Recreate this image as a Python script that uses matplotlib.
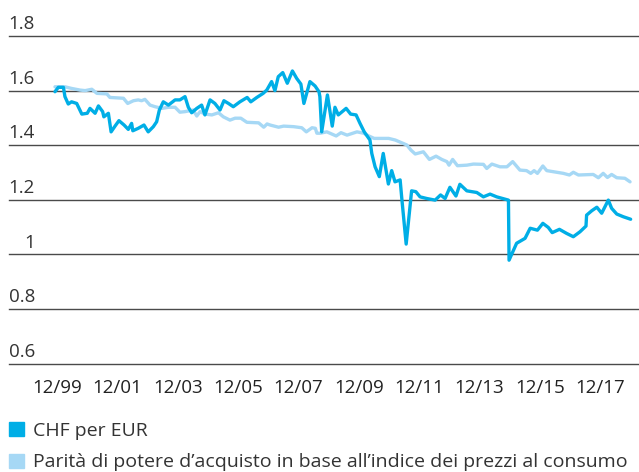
import matplotlib
matplotlib.use("Agg")
import matplotlib.pyplot as plt
import matplotlib.transforms as mtrans
from matplotlib.patches import Rectangle

plt.rcParams['font.family'] = ['Open Sans', 'DejaVu Sans']

# CHF per EUR (decimal year, value)
chf_t = [1999.85, 1999.96, 2000.13, 2000.18, 2000.29, 2000.40, 2000.57, 2000.74, 2000.92, 2001.01,
         2001.18, 2001.29, 2001.43, 2001.47, 2001.62, 2001.71, 2001.84, 2001.97, 2002.14, 2002.28,
         2002.39, 2002.43, 2002.61, 2002.80, 2002.94, 2003.11, 2003.22, 2003.31, 2003.44, 2003.61,
         2003.83, 2003.99, 2004.16, 2004.27, 2004.38, 2004.55, 2004.71, 2004.82, 2004.99, 2005.15,
         2005.32, 2005.45, 2005.60, 2005.76, 2005.98, 2006.22, 2006.34, 2006.54, 2006.75, 2006.87,
         2007.03, 2007.14, 2007.25, 2007.40, 2007.55, 2007.72, 2007.86, 2008.00, 2008.10, 2008.30,
         2008.47, 2008.60, 2008.63, 2008.69, 2008.88, 2009.04, 2009.13, 2009.24, 2009.50, 2009.65,
         2009.83, 2009.96, 2010.10, 2010.29, 2010.35, 2010.46, 2010.60, 2010.73, 2010.90, 2011.01,
         2011.12, 2011.29, 2011.34, 2011.49, 2011.67, 2011.81, 2011.95, 2012.17, 2012.45, 2012.63,
         2012.78, 2012.94, 2013.14, 2013.27, 2013.50, 2013.83, 2014.05, 2014.27, 2014.49, 2014.88,
         2014.90, 2015.15, 2015.43, 2015.60, 2015.84, 2016.02, 2016.20, 2016.33, 2016.57, 2016.81,
         2017.03, 2017.25, 2017.45, 2017.47, 2017.64, 2017.81, 2017.97, 2018.19, 2018.30, 2018.47,
         2018.69, 2018.93]
chf_v = [1.596, 1.612, 1.612, 1.578, 1.551, 1.559, 1.553, 1.514, 1.517, 1.535,
         1.517, 1.544, 1.523, 1.504, 1.517, 1.449, 1.470, 1.490, 1.474, 1.458,
         1.480, 1.453, 1.462, 1.474, 1.449, 1.468, 1.486, 1.529, 1.559, 1.547,
         1.566, 1.566, 1.578, 1.539, 1.519, 1.535, 1.547, 1.511, 1.566, 1.553,
         1.529, 1.563, 1.553, 1.541, 1.559, 1.575, 1.559, 1.575, 1.590, 1.602,
         1.633, 1.600, 1.651, 1.666, 1.627, 1.672, 1.645, 1.624, 1.553, 1.633,
         1.617, 1.596, 1.578, 1.449, 1.584, 1.470, 1.539, 1.511, 1.535, 1.514,
         1.511, 1.480, 1.449, 1.419, 1.370, 1.321, 1.285, 1.370, 1.258, 1.307,
         1.266, 1.273, 1.211, 1.038, 1.233, 1.230, 1.211, 1.205, 1.199, 1.218,
         1.205, 1.246, 1.214, 1.257, 1.233, 1.227, 1.211, 1.221, 1.211, 1.199,
         0.979, 1.041, 1.059, 1.096, 1.089, 1.114, 1.099, 1.080, 1.092, 1.077,
         1.065, 1.083, 1.104, 1.144, 1.160, 1.173, 1.151, 1.199, 1.169, 1.148,
         1.138, 1.129]

# Purchasing power parity based on CPI (decimal year, value)
ppp_t = [1999.85, 2000.18, 2000.40, 2000.68, 2000.85, 2001.07, 2001.24, 2001.57, 2001.67, 2002.12,
         2002.26, 2002.45, 2002.61, 2002.72, 2002.83, 2003.00, 2003.17, 2003.39, 2003.61, 2003.83,
         2003.99, 2004.16, 2004.43, 2004.55, 2004.66, 2004.82, 2005.05, 2005.27, 2005.43, 2005.65,
         2005.82, 2006.01, 2006.21, 2006.60, 2006.77, 2006.88, 2006.98, 2007.26, 2007.43, 2007.76,
         2008.03, 2008.18, 2008.37, 2008.48, 2008.53, 2008.64, 2008.86, 2009.17, 2009.33, 2009.53,
         2009.86, 2010.08, 2010.25, 2010.43, 2010.91, 2011.13, 2011.51, 2011.65, 2011.79, 2012.06,
         2012.26, 2012.48, 2012.67, 2012.84, 2012.91, 2013.03, 2013.19, 2013.50, 2013.72, 2014.05,
         2014.16, 2014.33, 2014.60, 2014.83, 2015.02, 2015.26, 2015.48, 2015.62, 2015.73, 2015.84,
         2016.02, 2016.15, 2016.37, 2016.70, 2016.90, 2017.03, 2017.20, 2017.69, 2017.86, 2018.02,
         2018.16, 2018.30, 2018.47, 2018.74, 2018.91]
ppp_v = [1.614, 1.614, 1.608, 1.602, 1.600, 1.605, 1.590, 1.588, 1.575, 1.572,
         1.553, 1.563, 1.566, 1.563, 1.568, 1.547, 1.541, 1.535, 1.539, 1.539,
         1.521, 1.523, 1.529, 1.507, 1.523, 1.514, 1.511, 1.519, 1.504, 1.492,
         1.499, 1.499, 1.484, 1.482, 1.466, 1.478, 1.474, 1.466, 1.470, 1.468,
         1.464, 1.449, 1.464, 1.462, 1.444, 1.444, 1.449, 1.434, 1.446, 1.437,
         1.449, 1.444, 1.434, 1.425, 1.425, 1.419, 1.401, 1.382, 1.368, 1.376,
         1.348, 1.360, 1.348, 1.340, 1.327, 1.348, 1.325, 1.327, 1.331, 1.330,
         1.315, 1.331, 1.321, 1.321, 1.340, 1.309, 1.307, 1.297, 1.307, 1.297,
         1.324, 1.307, 1.303, 1.297, 1.291, 1.301, 1.291, 1.293, 1.281, 1.297,
         1.282, 1.293, 1.281, 1.279, 1.266]

y_ticks = [0.6, 0.8, 1.0, 1.2, 1.4, 1.6, 1.8]
y_labels = ["0.6", "0.8", "1", "1.2", "1.4", "1.6", "1.8"]
x_ticks = [1999.917, 2001.917, 2003.917, 2005.917, 2007.917, 2009.917, 2011.917, 2013.917, 2015.917, 2017.917]
x_labels = ["12/99", "12/01", "12/03", "12/05", "12/07", "12/09", "12/11", "12/13", "12/15", "12/17"]

series_names = ["CHF per EUR", "Parità di potere d\u2019acquisto in base all\u2019indice dei prezzi al consumo"]
col_chf = "#00AEE6"
col_ppp = "#A6D8F5"
text_col = "#333333"
FS = 13.5
FS_LEG = 14

W, H = 639, 472
fig = plt.figure(figsize=(W / 100, H / 100), dpi=100)
ax = fig.add_axes([9 / W, 1 - 363.7 / H, 630 / W, (363.7 - 36) / H])
ax.set_xlim(1998.326, 2019.207)
ax.set_ylim(0.6, 1.8)
for s in ax.spines.values():
    s.set_visible(False)
ax.set_xticks([])
ax.set_yticks([])
ax.patch.set_alpha(0)

for yv in y_ticks:
    ax.axhline(yv, color="#4a4a4a", lw=1.0, zorder=1, clip_on=False)

ax.plot(ppp_t, ppp_v, color=col_ppp, lw=2.4, solid_joinstyle='round', solid_capstyle='round', zorder=2)
ax.plot(chf_t, chf_v, color=col_chf, lw=2.4, solid_joinstyle='round', solid_capstyle='round', zorder=3)

ytr = mtrans.blended_transform_factory(ax.transAxes, ax.transData)
for yv, lab in zip(y_ticks, y_labels):
    ax.annotate(lab, xy=(26 / 630, yv), xycoords=ytr, xytext=(0, 5), textcoords='offset points',
                ha='right', va='baseline', fontsize=FS, color=text_col)

xtr = mtrans.blended_transform_factory(ax.transData, ax.transAxes)
for xv, lab in zip(x_ticks, x_labels):
    ax.text(xv, (363.7 - 393) / (363.7 - 36), lab, transform=xtr, ha='center', va='baseline',
            fontsize=FS, color="#222222")

# legend
for i, (name, col) in enumerate(zip(series_names, [col_chf, col_ppp])):
    top = [422, 454][i]
    base = [436, 467][i]
    fig.patches.append(Rectangle((9 / W, 1 - (top + 14) / H), 15 / W, 14 / H,
                                 transform=fig.transFigure, color=col, figure=fig))
    fig.text(33 / W, 1 - base / H, name, ha='left', va='baseline', fontsize=FS_LEG, color=text_col)

fig.savefig("out.png", dpi=100)
